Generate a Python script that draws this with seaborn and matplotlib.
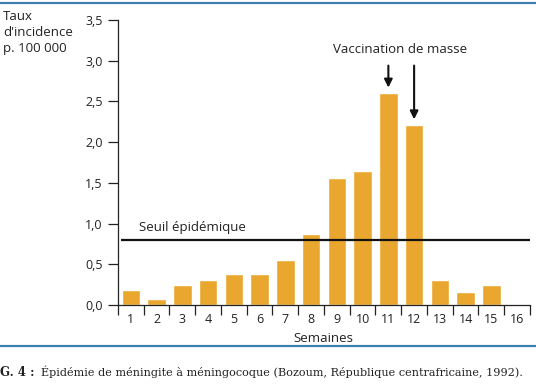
import numpy as np
import pandas as pd
import matplotlib.pyplot as plt
from matplotlib.lines import Line2D
from matplotlib.ticker import FuncFormatter
import seaborn as sns

# Data
weeks = [str(w) for w in range(1, 17)]
incidence = [0.19, 0.08, 0.24, 0.31, 0.38, 0.38, 0.55, 0.87,
             1.56, 1.65, 2.60, 2.21, 0.31, 0.16, 0.24, 0.0]
threshold = 0.80
vaccination_weeks = ['11', '12']

data = pd.DataFrame({'Semaine': weeks, 'Taux': incidence})

sns.set_style('ticks')
plt.rcParams['font.family'] = ['Open Sans', 'DejaVu Sans']
plt.rcParams['font.weight'] = 'medium'
text_color = '#222222'
bar_color = '#EAA72F'

fig = plt.figure(figsize=(5.36, 3.86), dpi=100)
ax = fig.add_axes([0.2201, 0.2098, 0.7687, 0.7384])

sns.barplot(data=data, x='Semaine', y='Taux', order=weeks, color=bar_color,
            width=0.72, saturation=1, errorbar=None, ax=ax)

ax.set_ylim(0, 3.5)
ax.set_xlim(-0.5, 15.5)
ax.set_yticks(np.arange(0, 3.51, 0.5))
ax.yaxis.set_major_formatter(FuncFormatter(lambda v, p: f'{v:.1f}'.replace('.', ',')))
ax.set_xticks(range(len(weeks)))
ax.set_xticklabels(weeks)
ax.set_xticks(np.arange(-0.5, 16, 1), minor=True)
ax.tick_params(axis='x', which='major', length=0, pad=6, labelsize=9, labelcolor=text_color)
ax.tick_params(axis='x', which='minor', length=7, width=0.9, color=text_color)
ax.tick_params(axis='y', length=7, width=0.9, color=text_color, labelsize=9,
               labelcolor=text_color, pad=4)
ax.set_xlabel('')
ax.set_ylabel('')
sns.despine(ax=ax)
for s in ['left', 'bottom']:
    ax.spines[s].set_color(text_color)
    ax.spines[s].set_linewidth(0.9)

# Epidemic threshold
ax.hlines(threshold, -0.38, 15.5, color='#111111', linewidth=1.6, zorder=3)
ax.text(0.32, threshold + 0.07, 'Seuil épidémique', fontsize=9.5, color=text_color,
        ha='left', va='bottom')

# Mass vaccination arrows
tops = dict(zip(weeks, incidence))
for w in vaccination_weeks:
    xi = weeks.index(w)
    ax.annotate('', xy=(xi, tops[w] + 0.07), xytext=(xi, 2.94),
                arrowprops=dict(arrowstyle='-|>', color='#111111', lw=1.5,
                                mutation_scale=12, shrinkA=0, shrinkB=0))
ax.text(10.45, 3.06, 'Vaccination de masse', fontsize=9.5, color=text_color,
        ha='center', va='bottom')

# Axis titles
fig.text(0.006, 0.975, "Taux\nd'incidence\np. 100 000", fontsize=9.5, color=text_color,
         ha='left', va='top', linespacing=1.32)
fig.text(0.604, 0.122, 'Semaines', fontsize=9.5, color=text_color, ha='center', va='center')

# Frame lines and caption
for yl in [0.992, 0.104]:
    fig.add_artist(Line2D([0, 1], [yl, yl], color='#3C7FAE', linewidth=1.6,
                          transform=fig.transFigure))
fig.text(0.0, 0.036, 'G. 4 :', fontsize=8.5, fontweight='bold', color=text_color,
         ha='left', va='center', family=['DejaVu Serif'])
fig.text(0.076, 0.036, 'Épidémie de méningite à méningocoque (Bozoum, République centrafricaine, 1992).',
         fontsize=8.1, fontweight='normal', color=text_color, ha='left', va='center',
         family=['DejaVu Serif'])

plt.savefig('out.png', dpi=100)
